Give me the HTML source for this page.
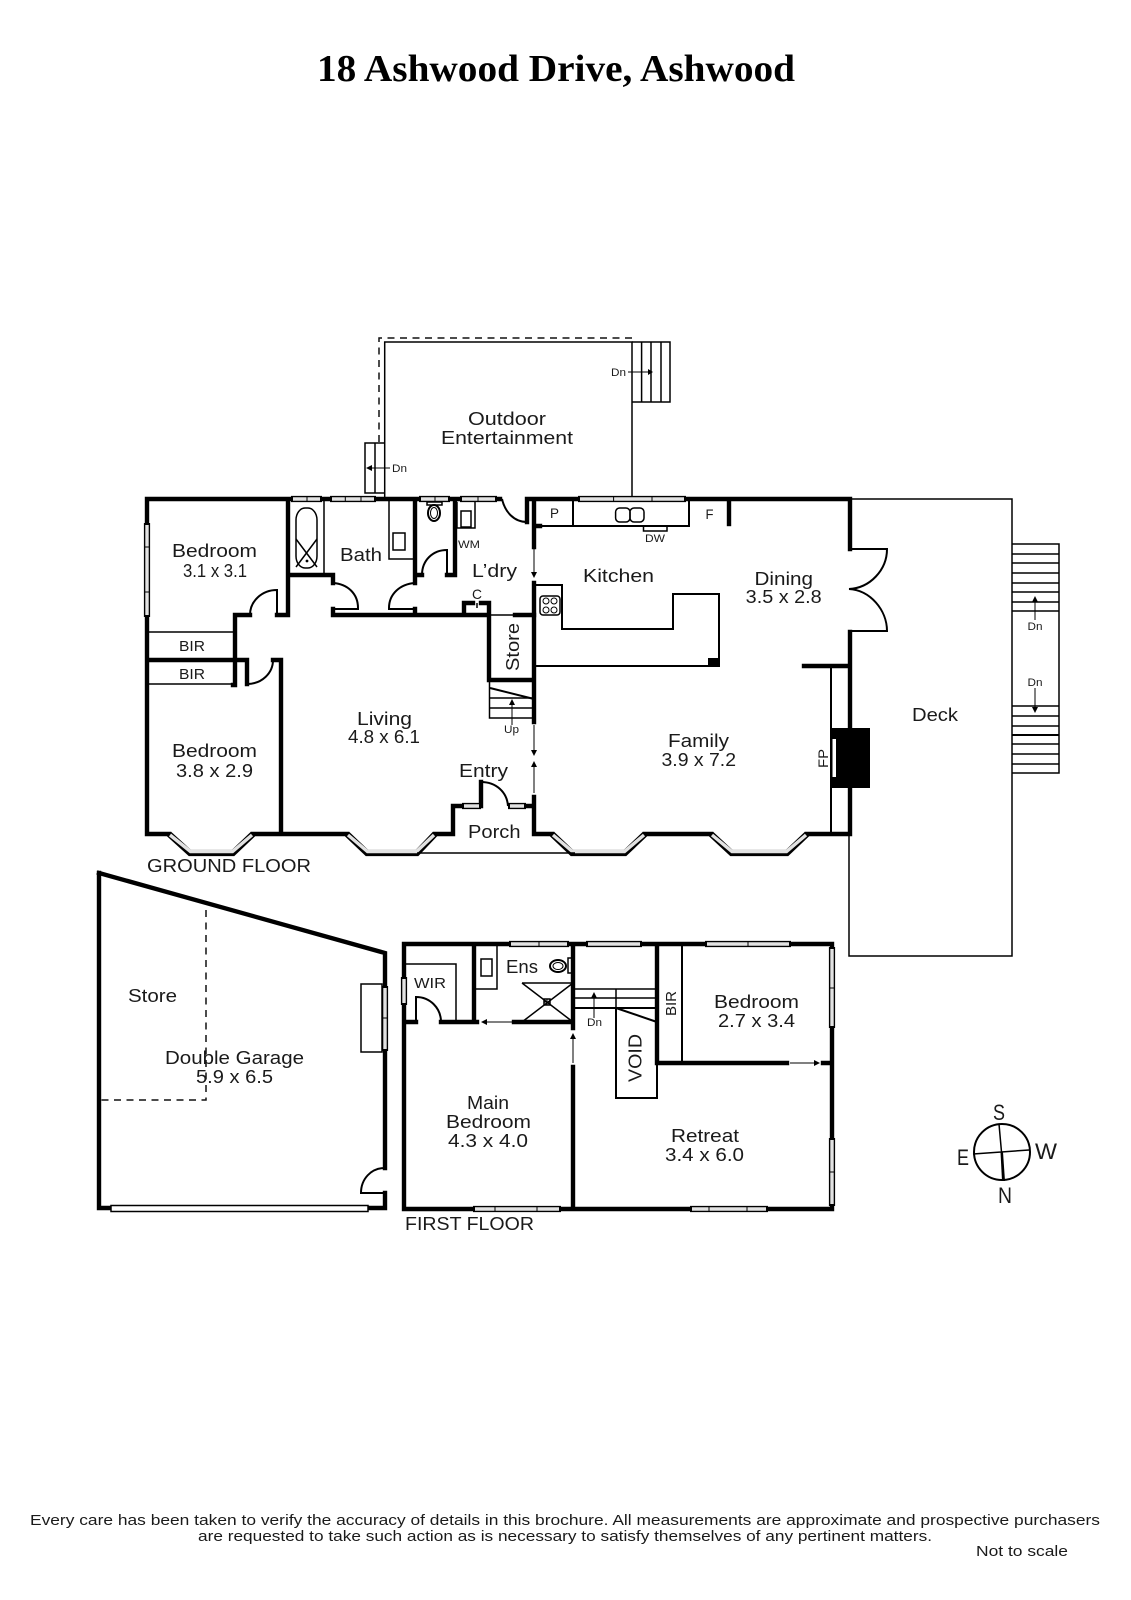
<!DOCTYPE html>
<html><head><meta charset="utf-8">
<style>
html,body{margin:0;padding:0;background:#fff}
svg{display:block}
text{font-family:"Liberation Sans",sans-serif;fill:#1a1a1a;font-size:18.5px}
.s{font-size:15px}.t{font-size:11px}.m{font-size:14px}.c{font-size:22px}
.w{fill:none;stroke:#000;stroke-width:4.4;stroke-linecap:square;stroke-linejoin:miter}
.n{fill:none;stroke:#000;stroke-width:1.5}
.h{fill:none;stroke:#000;stroke-width:2}
.d{fill:none;stroke:#111;stroke-width:1.5;stroke-dasharray:7 5.5}
.o{fill:none;stroke:#000;stroke-width:6.2}
.i{fill:none;stroke:#e2e2e2;stroke-width:3.4}
.v{fill:none;stroke:#000;stroke-width:1}
</style></head>
<body>
<svg xmlns="http://www.w3.org/2000/svg" width="1131" height="1600" viewBox="0 0 1131 1600">
<rect width="1131" height="1600" fill="#fff"/>

<!-- Outdoor -->
<path class="d" d="M379 442V338H632"/>
<path class="n" d="M384.7 499V342H632V499"/>
<path class="n" d="M385 443H365V493H385M375 443V493"/>
<path class="n" d="M632 342H670V402H632M641.6 342V402M651 342V402M661 342V402"/>
<path class="v" d="M390 468H367M628 372H651"/>
<path d="M366 468l6-3v6zM653 372l-5-3v6z"/>

<!-- Deck -->
<path class="n" d="M850 499H1012V956H849V833"/>
<path class="n" d="M1012 544H1059V773H1012M1012 554H1059M1012 563H1059M1012 573H1059M1012 583H1059M1012 592H1059M1012 602H1059M1012 611H1059M1012 706H1059M1012 716H1059M1012 726H1059M1012 744H1059M1012 754H1059M1012 764H1059"/>
<path class="h" d="M1012 735H1059"/>
<path class="v" d="M1035 620V600M1035 688V708"/>
<path d="M1035 596l-3 6h6zM1035 713l-3-6h6z"/>

<!-- Ground floor walls -->
<path class="w" d="M147 523V499H291M322 499H330M376 499H419M450 499H460M497 499H500M527 522V499H578M686 499H850V549M850 632V728M850 788V834H807M711 834H645M552 834H534V797M534 722V583M534 547V499M534 526H540M288 499V615H277M288 575H333V583M333 609V615H489M415 609V615M415 583V499M415 575H422M455 499V575H447M489 615V680H534M464 615V603H473M481 603H489V615M147 617V834H169M253 834H347M435 834H453V806H462M481 806V782M526 806H534M235 615H250M235 615V685H233M147 660H247V684M273 660H281V834M804 666H850"/>
<path class="w" d="M515 615H534"/>
<path class="h" d="M333 583C348 584 358 594 358 608V609H333M415 583C400 584 389 594 389 608V609H415M422 575C422 560 433 550 447 550V575M502 499C505 512 514 522 527 522M250 615C250 601 262 590 277 590V615M247 684C262 684 273 673 273 660M481 782C496 782 507 792 508 806M850 549H887C887 570 870 588 849 589C870 590 887 610 887 631H850"/>
<path class="n" d="M489 615H515M147 632H235M147 684H235"/>
<path class="h" d="M534 526H689V499M573 499V526M729 499V526"/>
<path class="w" d="M729 501V524"/>
<path class="n" d="M324 499V575M389 499V559H415M457 502V528H475V502"/>
<rect x="461" y="511" width="10" height="16" class="n"/>
<path class="n" d="M643.5 526V531H667V526"/>
<path class="h" d="M534 585H562V629H673V594H719V666H534"/>
<rect x="708" y="658" width="11" height="9" fill="#000"/>
<path class="h" d="M831 666V834"/>
<rect x="831" y="728" width="39" height="60" fill="#000"/>
<rect x="832.5" y="739" width="3.5" height="38" fill="#fff"/>
<path class="n" d="M477 603V608"/>

<!-- Stairs ground -->
<path class="n" d="M489.5 680V718H534M489 698H534M489 708H534"/>
<path class="h" d="M490 688L534 699"/>
<path class="v" d="M512 725V703"/>
<path d="M512 699l-3 6h6z"/>

<!-- Door arrows -->
<path class="v" d="M534 549V574M534 725V752M534 793V766"/>
<path d="M534 578l-3-6h6zM534 756l-3-6h6zM534 761l-3 6h6z"/>

<!-- Fixtures ground -->
<rect x="296" y="508" width="21" height="60" rx="9" ry="12" class="n"/>
<path class="n" d="M296 539L317 567M317 539L296 567"/>
<circle cx="307" cy="561" r="1.4"/>
<rect x="393" y="533" width="12" height="17" class="n"/>
<ellipse cx="434" cy="513" rx="6" ry="8" class="h"/>
<ellipse cx="434" cy="513" rx="3.5" ry="5.5" class="v"/>
<rect x="427" y="502" width="15" height="3" class="n"/>
<rect x="615.6" y="508" width="14.4" height="14" rx="4" class="n"/>
<rect x="630" y="508" width="14" height="14" rx="4" class="n"/>
<rect x="540" y="596" width="20" height="19" rx="3" class="n"/>
<circle cx="546" cy="601" r="3" class="v"/><circle cx="554" cy="601" r="3" class="v"/><circle cx="546" cy="610" r="3" class="v"/><circle cx="554" cy="610" r="3" class="v"/>

<!-- Ground windows -->
<path class="o" d="M291 499H322M330 499H376M419 499H450M460 499H497M578 499H686M462 806H481M508 806H526M147 523V617M169 834L190 853H233L253 834M347 834L367 853H417L435 834M552 834L572 853H625L645 834M711 834L731.5 853H787L807 834"/>
<path class="i" d="M293 499H320M332 499H374M421 499H448M462 499H495M580 499H684M464 806H479M510 806H524M147 525V615M170 835L190.5 851.5H232.5L252 835M348 835L367.5 851.5H416.5L434 835M553 835L572.5 851.5H624.5L644 835M712 835L732 851.5H786.5L806 835"/>
<path class="v" d="M307 496V502M345.3 496V502M361 496V502M435 496V502M478 496V502M613.6 496V502M652 496V502M144 547H150M144 592H150"/>
<path class="n" d="M417 853H575"/>

<!-- Garage -->
<path class="w" d="M99 873L385 953V1168M385 1193V1208H99V873"/>
<path class="h" d="M385 1168C371 1168 361 1179 361 1193H385"/>
<rect x="111" y="1205.5" width="257" height="6" fill="#fff" stroke="#000" stroke-width="1.5"/>
<rect x="361" y="984" width="21" height="68" class="n" fill="#fff"/>
<path class="o" d="M385 986V1051"/>
<path class="i" d="M385 988V1049"/>
<path class="v" d="M382 1018H388"/>
<path class="d" d="M206 910V1100H99"/>

<!-- First floor -->
<path class="w" d="M404 977V944H509M569 944H586M642 944H705M791 944H832V947M832 1028V1138M832 1206V1209H768M690 1209H561M473 1209H404V1005M404 1022H416M441 1022H477M514 1022H573M573 944V1028M573 1067V1209M657 944V1063H787M823 1063H832M474 944V1022"/>
<path class="h" d="M416 1022V997C430 997 441 1008 441 1022M657 1063V1098H616V1008M682 944V1063"/>
<path class="n" d="M404 964H456V1022M474 989H497V944M573 989H657M573 998H657M616 989V1008"/>
<path class="h" d="M573 1008H657M616 1008L657 1022"/>
<path class="n" d="M522 983H573M522 983L573 1022M573 983L522 1022"/>
<rect x="481" y="959" width="11" height="17" class="n"/>
<rect x="544" y="999" width="6" height="6" class="n"/>
<path class="v" d="M547 999V1005M544 1002H550"/>
<ellipse cx="558" cy="966" rx="8" ry="6" class="h"/>
<ellipse cx="558" cy="966" rx="5" ry="3.5" class="v"/>
<rect x="568" y="958" width="4" height="15" class="n"/>
<path class="v" d="M512 1022H486M573 1063V1037M790 1063H815M594 1018V996"/>
<path d="M481 1022l6-3v6zM573 1033l-3 6h6zM820 1063l-6-3v6zM594 992l-3 6h6z"/>
<path class="o" d="M509 944H569M586 944H642M705 944H791M832 947V1028M832 1138V1206M473 1209H561M690 1209H768M404 977V1005"/>
<path class="i" d="M511 944H567M588 944H640M707 944H789M832 949V1026M832 1140V1204M475 1209H559M692 1209H766M404 979V1003"/>
<path class="v" d="M539 941V947M748 941V947M829 988H835M829 1172H835M495 1206V1212M537 1206V1212M709 1206V1212M747 1206V1212"/>

<!-- Compass -->
<circle cx="1002" cy="1152" r="28" class="h"/>
<path class="n" d="M999 1124L1001.5 1152M973 1154L1029 1150"/>
<path d="M1000.5 1152L1003 1152L1005 1181L1002 1181z"/>

<!-- Title -->
<text x="317" y="81" textLength="478" lengthAdjust="spacingAndGlyphs" style="font-family:'Liberation Serif',serif;font-weight:bold;font-size:38px;fill:#000">18 Ashwood Drive, Ashwood</text>

<!-- Labels -->
<text x="468" y="425" textLength="78" lengthAdjust="spacingAndGlyphs">Outdoor</text>
<text x="441" y="444" textLength="132" lengthAdjust="spacingAndGlyphs">Entertainment</text>
<text x="172" y="557" textLength="85" lengthAdjust="spacingAndGlyphs">Bedroom</text>
<text x="183" y="577" textLength="64" lengthAdjust="spacingAndGlyphs">3.1 x 3.1</text>
<text x="340" y="561" textLength="42" lengthAdjust="spacingAndGlyphs">Bath</text>
<text x="472" y="577" textLength="45" lengthAdjust="spacingAndGlyphs">L’dry</text>
<text class="t" x="458" y="548" textLength="22" lengthAdjust="spacingAndGlyphs">WM</text>
<text class="m" x="550" y="518" textLength="9" lengthAdjust="spacingAndGlyphs">P</text>
<text class="m" x="705.5" y="519" textLength="8" lengthAdjust="spacingAndGlyphs">F</text>
<text class="t" x="645" y="542" textLength="20" lengthAdjust="spacingAndGlyphs">DW</text>
<text class="m" x="472" y="599" textLength="10" lengthAdjust="spacingAndGlyphs">C</text>
<text x="583" y="582" textLength="71" lengthAdjust="spacingAndGlyphs">Kitchen</text>
<text x="754.5" y="585" textLength="58.5" lengthAdjust="spacingAndGlyphs">Dining</text>
<text x="745.7" y="603" textLength="76" lengthAdjust="spacingAndGlyphs">3.5 x 2.8</text>
<text class="s" x="179" y="651" textLength="26" lengthAdjust="spacingAndGlyphs">BIR</text>
<text class="s" x="179" y="679" textLength="26" lengthAdjust="spacingAndGlyphs">BIR</text>
<text x="172" y="757" textLength="85" lengthAdjust="spacingAndGlyphs">Bedroom</text>
<text x="176" y="777" textLength="77" lengthAdjust="spacingAndGlyphs">3.8 x 2.9</text>
<text x="357" y="725" textLength="55" lengthAdjust="spacingAndGlyphs">Living</text>
<text x="348" y="743" textLength="72" lengthAdjust="spacingAndGlyphs">4.8 x 6.1</text>
<text x="459" y="777" textLength="49" lengthAdjust="spacingAndGlyphs">Entry</text>
<text x="468" y="838" textLength="52.5" lengthAdjust="spacingAndGlyphs">Porch</text>
<text x="147" y="872" textLength="164" lengthAdjust="spacingAndGlyphs">GROUND FLOOR</text>
<text transform="translate(519 671) rotate(-90)" x="0" y="0" textLength="48" lengthAdjust="spacingAndGlyphs">Store</text>
<text class="t" x="504" y="733" textLength="15" lengthAdjust="spacingAndGlyphs">Up</text>
<text x="668" y="747" textLength="61" lengthAdjust="spacingAndGlyphs">Family</text>
<text x="661.5" y="766" textLength="74.5" lengthAdjust="spacingAndGlyphs">3.9 x 7.2</text>
<text class="m" transform="translate(828 768) rotate(-90)" x="0" y="0" textLength="19" lengthAdjust="spacingAndGlyphs">FP</text>
<text x="912" y="721" textLength="46" lengthAdjust="spacingAndGlyphs">Deck</text>
<text class="t" x="392" y="472" textLength="15" lengthAdjust="spacingAndGlyphs">Dn</text>
<text class="t" x="611" y="376" textLength="15" lengthAdjust="spacingAndGlyphs">Dn</text>
<text class="t" x="1027.5" y="630" textLength="15" lengthAdjust="spacingAndGlyphs">Dn</text>
<text class="t" x="1027.5" y="686" textLength="15" lengthAdjust="spacingAndGlyphs">Dn</text>
<text class="t" x="587" y="1026" textLength="15" lengthAdjust="spacingAndGlyphs">Dn</text>
<text x="128" y="1002" textLength="49" lengthAdjust="spacingAndGlyphs">Store</text>
<text x="165" y="1064" textLength="139" lengthAdjust="spacingAndGlyphs">Double Garage</text>
<text x="196" y="1083" textLength="77" lengthAdjust="spacingAndGlyphs">5.9 x 6.5</text>
<text x="405" y="1230" textLength="129" lengthAdjust="spacingAndGlyphs">FIRST FLOOR</text>
<text class="s" x="414" y="988" textLength="32" lengthAdjust="spacingAndGlyphs">WIR</text>
<text x="506" y="973" textLength="32" lengthAdjust="spacingAndGlyphs">Ens</text>
<text x="467" y="1109" textLength="42" lengthAdjust="spacingAndGlyphs">Main</text>
<text x="446" y="1128" textLength="85" lengthAdjust="spacingAndGlyphs">Bedroom</text>
<text x="448" y="1147" textLength="80" lengthAdjust="spacingAndGlyphs">4.3 x 4.0</text>
<text x="671" y="1142" textLength="68" lengthAdjust="spacingAndGlyphs">Retreat</text>
<text x="665" y="1161" textLength="79" lengthAdjust="spacingAndGlyphs">3.4 x 6.0</text>
<text x="714" y="1008" textLength="85" lengthAdjust="spacingAndGlyphs">Bedroom</text>
<text x="718" y="1027" textLength="77" lengthAdjust="spacingAndGlyphs">2.7 x 3.4</text>
<text transform="translate(641.5 1082) rotate(-90)" x="0" y="0" textLength="48" lengthAdjust="spacingAndGlyphs">VOID</text>
<text class="s" transform="translate(676 1016) rotate(-90)" x="0" y="0" textLength="25" lengthAdjust="spacingAndGlyphs">BIR</text>
<text class="c" x="993" y="1120" textLength="12" lengthAdjust="spacingAndGlyphs">S</text>
<text class="c" x="957" y="1165" textLength="12" lengthAdjust="spacingAndGlyphs">E</text>
<text class="c" x="1035" y="1159" textLength="22" lengthAdjust="spacingAndGlyphs">W</text>
<text class="c" x="998" y="1203" textLength="14" lengthAdjust="spacingAndGlyphs">N</text>

<!-- Footer -->
<text x="30" y="1525" textLength="1070" lengthAdjust="spacingAndGlyphs" style="font-size:15px">Every care has been taken to verify the accuracy of details in this brochure.  All measurements are approximate and prospective purchasers</text>
<text x="198" y="1541" textLength="734" lengthAdjust="spacingAndGlyphs" style="font-size:15px">are requested to take such action as is necessary to satisfy themselves of any pertinent matters.</text>
<text x="976" y="1556" textLength="92" lengthAdjust="spacingAndGlyphs" style="font-size:15px">Not to scale</text>
</svg>
</body></html>
